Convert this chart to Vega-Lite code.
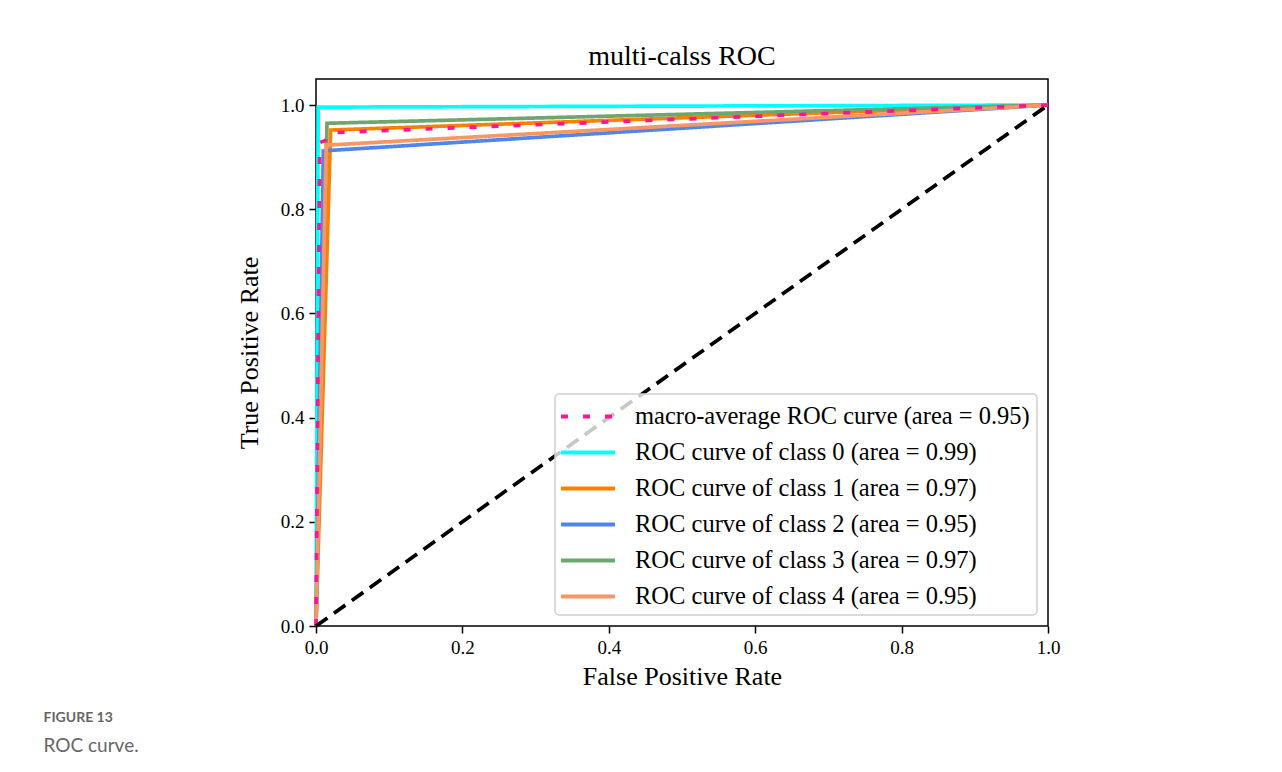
{
  "$schema": "https://vega.github.io/schema/vega-lite/v6.json",
  "padding": {"left": 43, "top": 42, "right": 0, "bottom": 0},
  "background": "white",
  "title": {
    "text": "FIGURE 13",
    "subtitle": "ROC curve.",
    "orient": "bottom",
    "anchor": "start",
    "dx": -192,
    "offset": 21,
    "font": "Lato",
    "fontSize": 14,
    "fontWeight": "bold",
    "color": "#666666",
    "subtitleFont": "Lato",
    "subtitleFontSize": 19,
    "subtitleFontWeight": "normal",
    "subtitleColor": "#666666",
    "subtitlePadding": 12
  },
  "resolve": {"legend": {"color": "independent", "strokeDash": "independent"}},
  "datasets": {
    "curves": [
      {"series": "ROC curve of class 0 (area = 0.99)", "fpr": 0.0, "tpr": 0.0},
      {"series": "ROC curve of class 0 (area = 0.99)", "fpr": 0.003, "tpr": 0.996},
      {"series": "ROC curve of class 0 (area = 0.99)", "fpr": 1.0, "tpr": 1.0},
      {"series": "ROC curve of class 1 (area = 0.97)", "fpr": 0.0, "tpr": 0.0},
      {"series": "ROC curve of class 1 (area = 0.97)", "fpr": 0.02, "tpr": 0.952},
      {"series": "ROC curve of class 1 (area = 0.97)", "fpr": 1.0, "tpr": 1.0},
      {"series": "ROC curve of class 2 (area = 0.95)", "fpr": 0.0, "tpr": 0.0},
      {"series": "ROC curve of class 2 (area = 0.95)", "fpr": 0.01, "tpr": 0.912},
      {"series": "ROC curve of class 2 (area = 0.95)", "fpr": 1.0, "tpr": 1.0},
      {"series": "ROC curve of class 3 (area = 0.97)", "fpr": 0.0, "tpr": 0.0},
      {"series": "ROC curve of class 3 (area = 0.97)", "fpr": 0.015, "tpr": 0.965},
      {"series": "ROC curve of class 3 (area = 0.97)", "fpr": 1.0, "tpr": 1.0},
      {"series": "ROC curve of class 4 (area = 0.95)", "fpr": 0.0, "tpr": 0.0},
      {"series": "ROC curve of class 4 (area = 0.95)", "fpr": 0.014, "tpr": 0.923},
      {"series": "ROC curve of class 4 (area = 0.95)", "fpr": 1.0, "tpr": 1.0},
      {"series": "macro-average ROC curve (area = 0.95)", "fpr": 0.0, "tpr": 0.0},
      {"series": "macro-average ROC curve (area = 0.95)", "fpr": 0.005, "tpr": 0.928},
      {"series": "macro-average ROC curve (area = 0.95)", "fpr": 0.013, "tpr": 0.932},
      {"series": "macro-average ROC curve (area = 0.95)", "fpr": 0.02, "tpr": 0.947},
      {"series": "macro-average ROC curve (area = 0.95)", "fpr": 1.0, "tpr": 1.0}
    ],
    "chance": [
      {"fpr": 0.0, "tpr": 0.0},
      {"fpr": 1.0, "tpr": 1.0}
    ]
  },
  "vconcat": [
    {
      "title": {
        "text": "multi-calss ROC",
        "font": "Liberation Serif",
        "fontSize": 28,
        "fontWeight": "normal",
        "color": "#000000",
        "anchor": "middle",
        "offset": 8
      },
      "width": 732,
      "height": 547,
      "layer": [
        {
          "data": {"name": "curves"},
          "mark": {"type": "line", "strokeWidth": 3.7, "strokeCap": "butt", "strokeJoin": "miter", "clip": false},
          "encoding": {
            "x": {
              "field": "fpr", "type": "quantitative",
              "scale": {"domain": [0, 1], "nice": false, "zero": false},
              "axis": {"title": "False Positive Rate", "values": [0, 0.2, 0.4, 0.6, 0.8, 1.0], "format": ".1f", "titlePadding": 6}
            },
            "y": {
              "field": "tpr", "type": "quantitative",
              "scale": {"domain": [0, 1.05], "nice": false, "zero": false},
              "axis": {"title": "True Positive Rate", "values": [0, 0.2, 0.4, 0.6, 0.8, 1.0], "format": ".1f", "titlePadding": 18}
            },
            "color": {
              "field": "series", "type": "nominal",
              "scale": {
                "domain": ["macro-average ROC curve (area = 0.95)", "ROC curve of class 0 (area = 0.99)", "ROC curve of class 1 (area = 0.97)", "ROC curve of class 2 (area = 0.95)", "ROC curve of class 3 (area = 0.97)", "ROC curve of class 4 (area = 0.95)"],
                "range": ["#ff1493", "#00ffff", "#ff8000", "#4f86ee", "#6fa56f", "#fa9564"]
              },
              "legend": {"title": null}
            },
            "strokeDash": {
              "field": "series", "type": "nominal",
              "scale": {
                "domain": ["macro-average ROC curve (area = 0.95)", "ROC curve of class 0 (area = 0.99)", "ROC curve of class 1 (area = 0.97)", "ROC curve of class 2 (area = 0.95)", "ROC curve of class 3 (area = 0.97)", "ROC curve of class 4 (area = 0.95)"],
                "range": [[7, 15], [1, 0], [1, 0], [1, 0], [1, 0], [1, 0]]
              },
              "legend": {"title": null}
            }
          }
        },
        {
          "data": {"name": "chance"},
          "mark": {"type": "line", "color": "#000000", "strokeWidth": 3.7, "strokeDash": [14, 8], "strokeCap": "butt"},
          "encoding": {
            "x": {"field": "fpr", "type": "quantitative"},
            "y": {"field": "tpr", "type": "quantitative"}
          }
        }
      ]
    }
  ],
  "config": {
    "view": {"stroke": "#000000", "strokeWidth": 1.5, "fill": "white"},
    "axis": {
      "domain": false,
      "grid": false,
      "ticks": true,
      "tickSize": 7,
      "tickWidth": 1.5,
      "tickColor": "#000000",
      "labelFont": "Liberation Serif",
      "labelFontSize": 19,
      "labelColor": "#000000",
      "labelPadding": 5,
      "labelFlush": false,
      "labelOverlap": false,
      "titleFont": "Liberation Serif",
      "titleFontSize": 26,
      "titleFontWeight": "normal",
      "titleColor": "#000000"
    },
    "legend": {
      "orient": "bottom-right",
      "offset": 11,
      "padding": 7,
      "rowPadding": 9,
      "labelFont": "Liberation Serif",
      "labelFontSize": 24.5,
      "labelColor": "#000000",
      "labelOffset": 42,
      "labelLimit": 0,
      "symbolType": "M-1.222,0L2.778,0",
      "symbolSize": 729,
      "symbolStrokeWidth": 4,
      "fillColor": "rgba(255,255,255,0.78)",
      "strokeColor": "#d0d0d0",
      "strokeWidth": 1.5,
      "cornerRadius": 4
    }
  }
}
